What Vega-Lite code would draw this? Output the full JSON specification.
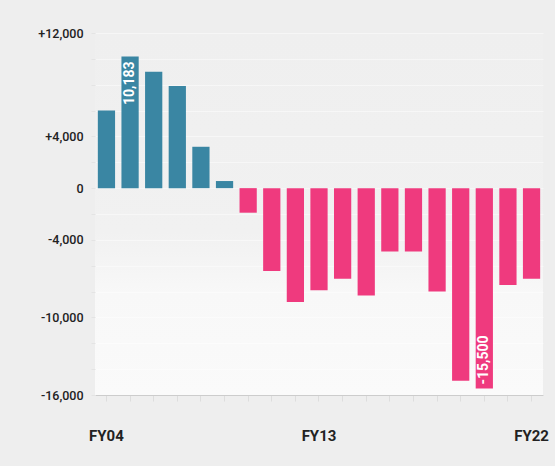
{
  "$schema": "https://vega.github.io/schema/vega-lite/v6.json",
  "autosize": {"type": "none"},
  "width": 448,
  "height": 362,
  "padding": {"left": 95, "top": 33, "right": 12, "bottom": 71},
  "background": "#eeeeee",
  "view": {
    "stroke": null,
    "fill": {
      "gradient": "linear",
      "x1": 0, "y1": 0, "x2": 0, "y2": 1,
      "stops": [
        {"offset": 0, "color": "#efefef"},
        {"offset": 0.55, "color": "#f1f1f1"},
        {"offset": 0.72, "color": "#f8f8f8"},
        {"offset": 1, "color": "#fafafa"}
      ]
    }
  },
  "config": {
    "font": "Roboto",
    "axis": {"labelFont": "Roboto", "labelColor": "#222222"}
  },
  "data": {
    "values": [
      {"fy": "FY04", "value": 6000},
      {"fy": "FY05", "value": 10183, "label": "10,183"},
      {"fy": "FY06", "value": 9000},
      {"fy": "FY07", "value": 7900},
      {"fy": "FY08", "value": 3200},
      {"fy": "FY09", "value": 550},
      {"fy": "FY10", "value": -1900},
      {"fy": "FY11", "value": -6400},
      {"fy": "FY12", "value": -8800},
      {"fy": "FY13", "value": -7900},
      {"fy": "FY14", "value": -7000},
      {"fy": "FY15", "value": -8300},
      {"fy": "FY16", "value": -4900},
      {"fy": "FY17", "value": -4900},
      {"fy": "FY18", "value": -8000},
      {"fy": "FY19", "value": -14900},
      {"fy": "FY20", "value": -15500, "label": "-15,500"},
      {"fy": "FY21", "value": -7500},
      {"fy": "FY22", "value": -7000}
    ]
  },
  "encoding": {
    "x": {
      "field": "fy",
      "type": "ordinal",
      "sort": null,
      "title": null,
      "scale": {"paddingInner": 0.27, "paddingOuter": 0.12},
      "axis": {
        "labelAngle": 0,
        "labelFontSize": 15,
        "labelFontWeight": "bold",
        "labelExpr": "indexof(['FY04','FY13','FY22'], datum.value) >= 0 ? datum.value : ''",
        "labelPadding": 27,
        "tickSize": 6,
        "tickColor": "#dddddd",
        "domainColor": "#cccccc",
        "grid": false
      }
    },
    "y": {
      "field": "value",
      "type": "quantitative",
      "title": null,
      "scale": {"domain": [-16000, 12000], "nice": false},
      "axis": {
        "values": [12000, 10000, 8000, 6000, 4000, 2000, 0, -2000, -4000, -6000, -8000, -10000, -12000, -14000, -16000],
        "labelExpr": "datum.value == 12000 ? '+12,000' : datum.value == 4000 ? '+4,000' : datum.value == 0 ? '0' : datum.value == -4000 ? '-4,000' : datum.value == -10000 ? '-10,000' : datum.value == -16000 ? '-16,000' : ''",
        "labelFontSize": 12.5,
        "labelFontWeight": 500,
        "labelPadding": 8,
        "tickSize": 4,
        "tickColor": "#e4e4e4",
        "domain": false,
        "grid": true,
        "gridColor": "#ffffff",
        "gridOpacity": 0.45,
        "gridWidth": 1
      }
    }
  },
  "layer": [
    {
      "mark": {"type": "bar"},
      "encoding": {
        "color": {
          "condition": {"test": "datum.value >= 0", "value": "#3a86a3"},
          "value": "#ef3a7e"
        }
      }
    },
    {
      "transform": [{"filter": "datum.label && datum.value > 0"}],
      "mark": {"type": "text", "angle": 270, "align": "right", "baseline": "middle", "dx": -5, "color": "#ffffff", "fontSize": 14, "fontWeight": "bold"},
      "encoding": {"text": {"field": "label"}}
    },
    {
      "transform": [{"filter": "datum.label && datum.value < 0"}],
      "mark": {"type": "text", "angle": 270, "align": "left", "baseline": "middle", "dx": 4, "color": "#ffffff", "fontSize": 14, "fontWeight": "bold"},
      "encoding": {"text": {"field": "label"}}
    }
  ]
}
